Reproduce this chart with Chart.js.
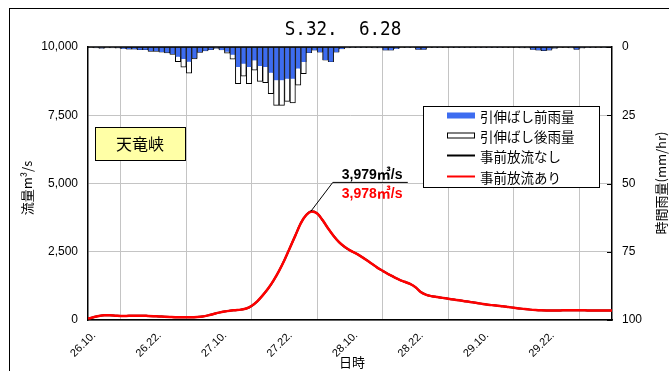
<!DOCTYPE html>
<html>
<head>
<meta charset="utf-8">
<script src="https://cdn.jsdelivr.net/npm/chart.js@4.4.0/dist/chart.umd.min.js"></script>
<style>
  html, body { margin: 0; padding: 0; background: #fff; }
  #wrap { width: 669px; height: 371px; }
</style>
</head>
<body>
<div id="wrap"><canvas id="hydro" width="669" height="371"></canvas></div>
<script>
const chartTitle = "S.32.  6.28"
const stationName = "天竜峡"
const timeLabels = ["26.10.", "26.22.", "27.10.", "27.22.", "28.10.", "28.22.", "29.10.", "29.22."]
const seriesNames = ["引伸ばし前雨量", "引伸ばし後雨量", "事前放流なし", "事前放流あり"]
const flowTicks = [0, 2500, 5000, 7500, 10000]
const rainTicks = [0, 25, 50, 75, 100]

// hourly rainfall (mm/hr), 26.10 -> 30.10
const rainBefore = [
    0.2, 0.3, 0.5, 0.3, 0.3, 0.4, 0.6, 0.8, 0.8, 1.0,
    1.0, 1.5, 1.5, 1.8, 2.0, 2.6, 3.6, 4.4, 5.4, 4.1,
    1.9, 1.4, 1.0, 0.5, 1.1, 1.7, 2.8, 7.3, 6.1, 7.3,
    4.9, 7.0, 7.3, 9.4, 12.2, 12.2, 11.6, 11.6, 7.9, 5.5,
    2.1, 1.2, 1.9, 4.8, 5.4, 1.9, 0.7, 0.3, 0.1, 0.1,
    0.1, 0.2, 0.3, 0.3, 1.2, 1.2, 0.6, 0.2, 0.1, 0.2,
    0.9, 0.9, 0.2, 0.1, 0.1, 0.2, 0.1, 0.1, 0.1, 0.1,
    0.1, 0.1, 0.1, 0.1, 0.1, 0.1, 0.2, 0.2, 0.2, 0.3,
    0.3, 0.9, 1.2, 1.3, 1.2, 0.5, 0.2, 0.2, 0.3, 0.9,
    0.4, 0.1, 0.1, 0.2, 0.1, 0.1
]
const rainAfter = [
    0.2, 0.3, 0.5, 0.3, 0.3, 0.4, 0.6, 0.8, 0.8, 1.0,
    1.0, 1.6, 1.6, 1.9, 2.2, 2.7, 5.4, 7.4, 9.6, 4.4,
    2.0, 1.4, 1.0, 0.5, 1.1, 2.3, 4.5, 13.4, 10.7, 13.4,
    8.5, 12.6, 13.1, 17.1, 21.4, 21.4, 19.9, 20.5, 14.0, 9.8,
    2.1, 1.2, 1.9, 4.8, 5.4, 1.9, 0.7, 0.3, 0.1, 0.1,
    0.1, 0.2, 0.3, 0.3, 1.2, 1.2, 0.6, 0.2, 0.1, 0.2,
    0.9, 0.9, 0.2, 0.1, 0.1, 0.2, 0.1, 0.1, 0.1, 0.1,
    0.1, 0.1, 0.1, 0.1, 0.1, 0.1, 0.2, 0.2, 0.2, 0.3,
    0.3, 0.9, 1.2, 1.3, 1.2, 0.5, 0.2, 0.2, 0.3, 0.9,
    0.4, 0.1, 0.1, 0.2, 0.1, 0.1
]

// discharge (m3/s), one value per hour
const flowNoRelease = [
    50, 100, 150, 170, 170, 160, 150, 150, 160, 160,
    160, 150, 140, 130, 120, 110, 100, 100, 100, 100,
    110, 130, 170, 220, 270, 310, 340, 360, 380, 420,
    520, 680, 900, 1150, 1450, 1800, 2200, 2650, 3100, 3550,
    3850, 3979, 3900, 3650, 3350, 3080, 2850, 2680, 2550, 2450,
    2330, 2200, 2060, 1920, 1800, 1680, 1580, 1480, 1400, 1320,
    1200, 1020, 920, 870, 840, 810, 780, 750, 720, 690,
    660, 630, 600, 570, 545, 520, 500, 475, 450, 425,
    400, 380, 365, 355, 350, 350, 350, 355, 355, 355,
    355, 355, 350, 350, 350, 350, 350
]
const flowRelease = [
    50, 100, 150, 170, 170, 160, 150, 150, 160, 160,
    160, 150, 140, 130, 120, 110, 100, 100, 100, 100,
    110, 130, 170, 220, 270, 310, 340, 360, 380, 420,
    520, 680, 900, 1150, 1450, 1800, 2200, 2650, 3100, 3550,
    3850, 3978, 3900, 3650, 3350, 3080, 2850, 2680, 2550, 2450,
    2330, 2200, 2060, 1920, 1800, 1680, 1580, 1480, 1400, 1320,
    1200, 1020, 920, 870, 840, 810, 780, 750, 720, 690,
    660, 630, 600, 570, 545, 520, 500, 475, 450, 425,
    400, 380, 365, 355, 350, 350, 350, 355, 355, 355,
    355, 355, 350, 350, 350, 350, 350
]

const blue = "#3d6cf0"
const latin = "'Liberation Sans', Arial, sans-serif"
const jp = "'Noto Sans CJK JP', 'Noto Sans', sans-serif"

const fmt = v => v.toLocaleString("en-US")

const decor = {
    id: "decor",
    afterDatasetsDraw(chart) {
        const { ctx, chartArea: a } = chart
        ctx.save()
        ctx.strokeStyle = "#000"
        ctx.lineWidth = 1.5
        ctx.beginPath()
        ctx.moveTo(a.left, a.top)
        ctx.lineTo(a.right, a.top)
        ctx.stroke()
        // short inner ticks on the rain axis
        const y1 = chart.scales.y1
        ctx.lineWidth = 1
        rainTicks.forEach(t => {
            const yy = Math.round(y1.getPixelForValue(t)) + 0.5
            ctx.beginPath()
            ctx.moveTo(a.right - 5, yy)
            ctx.lineTo(a.right, yy)
            ctx.stroke()
        })
        ctx.restore()
    },
    afterDraw(chart) {
        const { ctx, chartArea: a } = chart
        const x = chart.scales.x, y = chart.scales.y
        ctx.save()

        // outer frame
        ctx.strokeStyle = "#000"
        ctx.lineWidth = 1
        ctx.strokeRect(9.5, 8.5, 700, 400)

        // title
        ctx.fillStyle = "#000"
        ctx.textAlign = "center"
        ctx.textBaseline = "middle"
        ctx.save()
        ctx.translate(343, 30)
        ctx.scale(0.88, 1)
        ctx.font = "20px 'DejaVu Sans Mono', monospace"
        ctx.fillText(chartTitle, 0, 0)
        ctx.restore()

        // station box
        ctx.fillStyle = "#ffffa6"
        ctx.fillRect(95, 127, 90, 33)
        ctx.strokeRect(95.5, 127.5, 90, 33)
        ctx.fillStyle = "#000"
        ctx.font = "16px " + jp
        ctx.fillText(stationName, 140, 144)

        // axis titles
        ctx.font = "13px " + jp
        ctx.fillText("日時", (a.left + a.right) / 2 + 2, 362)
        ctx.save()
        ctx.translate(27, 188)
        ctx.rotate(-Math.PI / 2)
        ctx.fillText("流量m³/s", 0, 0)
        ctx.restore()
        ctx.save()
        ctx.translate(661, 183)
        ctx.rotate(-Math.PI / 2)
        ctx.fillText("時間雨量(mm/hr)", 0, 0)
        ctx.restore()

        // legend
        ctx.fillStyle = "#fff"
        ctx.fillRect(423, 106, 176, 81)
        ctx.strokeRect(423.5, 106.5, 176, 81)
        const rows = [115.5, 135.5, 155.5, 176.5]
        ctx.textAlign = "left"
        ctx.font = "13.5px " + jp
        seriesNames.forEach((name, k) => {
            const ry = rows[k]
            if (k === 0) {
                ctx.fillStyle = blue
                ctx.fillRect(447, ry - 3, 28, 6)
            } else if (k === 1) {
                ctx.fillStyle = "#fff"
                ctx.fillRect(447, ry - 3, 28, 6)
                ctx.strokeStyle = "#000"
                ctx.strokeRect(447.5, ry - 2.5, 27, 5)
            } else {
                ctx.strokeStyle = k === 2 ? "#000" : "#ff0000"
                ctx.lineWidth = 2
                ctx.beginPath()
                ctx.moveTo(447, ry)
                ctx.lineTo(475, ry)
                ctx.stroke()
                ctx.lineWidth = 1
            }
            ctx.fillStyle = "#000"
            ctx.fillText(name, 480, ry + 1)
        })

        // peak annotation
        const peakA = Math.max(...flowNoRelease)
        const peakB = Math.max(...flowRelease)
        const pi = flowRelease.indexOf(peakB)
        const px = x.getPixelForValue(pi), py = y.getPixelForValue(peakB)
        ctx.strokeStyle = "#000"
        ctx.lineWidth = 1
        ctx.beginPath()
        ctx.moveTo(px - 1, py)
        ctx.lineTo(px + 21, py - 29)
        ctx.lineTo(px + 96, py - 29)
        ctx.stroke()
        ctx.font = "bold 14px " + latin + ", " + jp
        ctx.textBaseline = "alphabetic"
        ctx.fillStyle = "#000"
        ctx.fillText(fmt(peakA) + "㎥/s", px + 30, py - 32)
        ctx.fillStyle = "#ff0000"
        ctx.fillText(fmt(peakB) + "㎥/s", px + 30, py - 13)

        ctx.restore()
    }
}

const toPoints = (arr, shift) => arr.map((v, i) => ({ x: i + shift, y: v }))

new Chart(document.getElementById("hydro"), {
    type: "bar",
    data: {
        datasets: [
            {
                label: seriesNames[0],
                data: toPoints(rainBefore, 0.5),
                yAxisID: "y1",
                backgroundColor: blue,
                borderColor: "#222",
                borderWidth: { left: 1, right: 1, top: 0, bottom: 0 },
                borderSkipped: false,
                barPercentage: 1,
                categoryPercentage: 1,
                grouped: false,
                order: 2
            },
            {
                label: seriesNames[1],
                data: toPoints(rainAfter, 0.5),
                yAxisID: "y1",
                backgroundColor: "#fff",
                borderColor: "#000",
                borderWidth: 1,
                borderSkipped: false,
                barPercentage: 1,
                categoryPercentage: 1,
                grouped: false,
                order: 3
            },
            {
                type: "line",
                label: seriesNames[2],
                data: toPoints(flowNoRelease, 0),
                yAxisID: "y",
                borderColor: "#000",
                borderWidth: 2,
                pointRadius: 0,
                cubicInterpolationMode: "monotone",
                order: 1
            },
            {
                type: "line",
                label: seriesNames[3],
                data: toPoints(flowRelease, 0),
                yAxisID: "y",
                borderColor: "#ff0000",
                borderWidth: 2.5,
                pointRadius: 0,
                cubicInterpolationMode: "monotone",
                order: 0
            }
        ]
    },
    options: {
        responsive: false,
        animation: false,
        layout: { padding: { top: 47, left: 0, right: 0, bottom: 0 } },
        plugins: { legend: { display: false }, tooltip: { enabled: false }, title: { display: false } },
        scales: {
            x: {
                type: "linear",
                min: 0,
                max: timeLabels.length * 12,
                offset: false,
                afterFit: s => { s.height = 51 },
                afterBuildTicks: s => { s.ticks = timeLabels.map((t, k) => ({ value: k * 12 })).concat([{ value: timeLabels.length * 12 }]) },
                ticks: {
                    autoSkip: false,
                    minRotation: 45,
                    maxRotation: 45,
                    padding: 9,
                    labelOffset: 6,
                    color: "#000",
                    font: { family: latin, size: 11 },
                    callback: v => timeLabels[v / 12] || ""
                },
                grid: { color: "#c4c4c4", drawTicks: false },
                border: { color: "#000", width: 1.5 }
            },
            y: {
                position: "left",
                min: 0,
                max: 10000,
                afterFit: s => { s.width = 88 },
                afterBuildTicks: s => { s.ticks = flowTicks.map(v => ({ value: v })) },
                ticks: {
                    padding: 10,
                    color: "#000",
                    font: { family: latin, size: 12 },
                    callback: v => fmt(v)
                },
                grid: { color: "#c4c4c4", drawTicks: false },
                border: { color: "#000", width: 1.5 }
            },
            y1: {
                position: "right",
                min: 0,
                max: 100,
                reverse: true,
                afterFit: s => { s.width = 57 },
                afterBuildTicks: s => { s.ticks = rainTicks.map(v => ({ value: v })) },
                ticks: {
                    padding: 10,
                    color: "#000",
                    font: { family: latin, size: 12 }
                },
                grid: { drawOnChartArea: false, drawTicks: false },
                border: { color: "#000", width: 1.5 }
            }
        }
    },
    plugins: [decor]
})
</script>
</body>
</html>
